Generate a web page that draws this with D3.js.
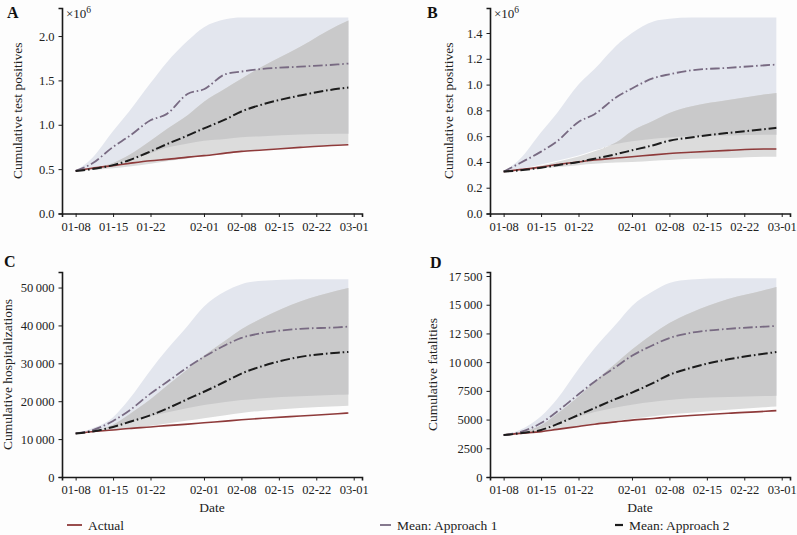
<!DOCTYPE html>
<html>
<head>
<meta charset="utf-8">
<script src="https://cdn.jsdelivr.net/npm/d3@7"></script>
<style>
  body { margin: 0; background: #fdfdfd; }
  svg { display: block; }
  svg text { font-family: "Liberation Serif", "Times New Roman", "DejaVu Serif", serif; }
  .tick text { font-size: 12.5px; fill: #222; }
</style>
</head>
<body>
<script>
const dates = ["2021-01-08","2021-01-11","2021-01-15","2021-01-18","2021-01-22","2021-01-25",
  "2021-01-29","2021-02-01","2021-02-05","2021-02-08","2021-02-12","2021-02-19","2021-02-26","2021-02-28"];
const xTickLabels = ["2021-01-08","2021-01-15","2021-01-22","2021-02-01","2021-02-08","2021-02-15","2021-02-22","2021-03-01"];

// A: cumulative test positives (x 10^6)
const actualA = [0.48,0.51,0.54,0.565,0.595,0.61,0.635,0.652,0.68,0.70,0.715,0.745,0.77,0.775];
const mean1A  = [0.48,0.56,0.75,0.87,1.05,1.12,1.35,1.40,1.57,1.60,1.63,1.655,1.68,1.69];
const mean2A  = [0.48,0.50,0.545,0.60,0.70,0.78,0.88,0.96,1.06,1.15,1.23,1.33,1.405,1.42];
const hi1A    = [0.48,0.62,0.93,1.15,1.47,1.70,1.95,2.10,2.19,2.21,2.21,2.21,2.21,2.21];
const lo1A    = [0.48,0.50,0.56,0.61,0.68,0.74,0.79,0.82,0.84,0.86,0.87,0.89,0.90,0.90];
const hi2A    = [0.48,0.51,0.57,0.66,0.82,0.95,1.11,1.26,1.41,1.52,1.66,1.88,2.12,2.175];
const lo2A    = [0.48,0.49,0.51,0.53,0.56,0.59,0.62,0.65,0.68,0.70,0.72,0.75,0.775,0.785];

// B: cumulative test positives (x 10^6)
const actualB = [0.325,0.34,0.36,0.38,0.40,0.415,0.43,0.44,0.455,0.465,0.475,0.49,0.50,0.50];
const mean1B  = [0.325,0.39,0.48,0.56,0.71,0.77,0.90,0.97,1.05,1.08,1.11,1.13,1.15,1.155];
const mean2B  = [0.325,0.335,0.355,0.375,0.40,0.425,0.46,0.49,0.53,0.565,0.59,0.625,0.655,0.665];
const hi1B    = [0.325,0.42,0.63,0.78,1.00,1.12,1.30,1.40,1.49,1.51,1.52,1.52,1.52,1.52];
const lo1B    = [0.325,0.345,0.38,0.41,0.45,0.49,0.54,0.56,0.58,0.59,0.60,0.605,0.61,0.61];
const hi2B    = [0.325,0.34,0.372,0.402,0.442,0.482,0.55,0.64,0.72,0.78,0.83,0.88,0.925,0.935];
const lo2B    = [0.325,0.335,0.35,0.36,0.375,0.385,0.395,0.40,0.41,0.415,0.425,0.43,0.44,0.44];

// C: cumulative hospitalizations
const actualC = [11500,11950,12400,12800,13200,13550,13950,14300,14750,15100,15500,16100,16700,16900];
const mean1C  = [11500,12300,14800,17500,22000,25000,29000,31700,34800,36700,38000,39100,39500,39700];
const mean2C  = [11500,12000,13200,14500,16300,18000,20600,22500,25200,27300,29300,31700,32800,33000];
const hi1C    = [11500,12800,15800,20500,28200,33500,40000,45000,49000,50900,51800,52200,52200,52200];
const lo1C    = [11500,12000,13200,14500,16000,17000,18200,19000,19800,20300,20800,21300,21700,21800];
const hi2C    = [11500,12000,13800,16500,20500,24000,28500,32000,36000,39000,42000,46300,49200,49900];
const lo2C    = [11500,11900,12400,12900,13500,14100,14900,15500,16300,16900,17500,18200,18700,18800];

// D: cumulative fatalities
const actualD = [3650,3800,3950,4150,4400,4600,4800,4950,5100,5220,5350,5550,5720,5780];
const mean1D  = [3650,3900,4700,5700,7200,8300,9600,10550,11500,12100,12550,12900,13100,13150];
const mean2D  = [3650,3800,4100,4600,5400,6000,6800,7350,8200,8900,9500,10250,10750,10880];
const hi1D    = [3650,4100,5300,6800,9400,11200,13300,14900,16200,16900,17200,17300,17300,17300];
const lo1D    = [3650,3850,4250,4700,5250,5650,6050,6300,6550,6700,6850,6970,7050,7080];
const hi2D    = [3650,3850,4500,5500,7000,8300,9900,11100,12500,13400,14300,15500,16300,16550];
const lo2D    = [3650,3750,3950,4150,4400,4650,4900,5080,5300,5450,5600,5850,6080,6140];

const ticksA = [0, 0.5, 1.0, 1.5, 2.0];
const ticksB = [0, 0.2, 0.4, 0.6, 0.8, 1.0, 1.2, 1.4];
const ticksC = [0, 10000, 20000, 30000, 40000, 50000];
const ticksD = [0, 2500, 5000, 7500, 10000, 12500, 15000, 17500];

const legendLabels = ["Actual", "Mean: Approach 1", "Mean: Approach 2"];

const parse = d3.timeParse("%Y-%m-%d");
const xDates = dates.map(parse);
const xTicks = xTickLabels.map(parse);

const colors = {
  actual: "#8e3a3a",
  mean1: "#786a82",
  mean2: "#1c1c1c",
  band1: "#e3e6ee",
  band2: "#dcdcdc",
  overlap: "#c9c9ca"
};

const spaced = n => n >= 10000 ? d3.format(",")(n).replace(/,/g, "\u2009") : String(n);

const panels = [
  { key: "A", left: 62, right: 362, top: 8, bottom: 213.5, yMax: 2.316, ticks: ticksA, fmt: d3.format(".1f"),
    label: "Cumulative test positives", labelX: 22, letterX: 7, letterY: 18, mult: true,
    actual: actualA, mean1: mean1A, mean2: mean2A, hi1: hi1A, lo1: lo1A, hi2: hi2A, lo2: lo2A },
  { key: "B", left: 490, right: 790, top: 8, bottom: 213.5, yMax: 1.594, ticks: ticksB, fmt: d3.format(".1f"),
    label: "Cumulative test positives", labelX: 453, letterX: 427, letterY: 18, mult: true,
    actual: actualB, mean1: mean1B, mean2: mean2B, hi1: hi1B, lo1: lo1B, hi2: hi2B, lo2: lo2B },
  { key: "C", left: 62, right: 362, top: 272, bottom: 477, yMax: 54100, ticks: ticksC, fmt: spaced,
    label: "Cumulative hospitalizations", labelX: 12, letterX: 4, letterY: 267, mult: false,
    actual: actualC, mean1: mean1C, mean2: mean2C, hi1: hi1C, lo1: lo1C, hi2: hi2C, lo2: lo2C },
  { key: "D", left: 490, right: 790, top: 272, bottom: 477, yMax: 17850, ticks: ticksD, fmt: spaced,
    label: "Cumulative fatalities", labelX: 437, letterX: 430, letterY: 268, mult: false,
    actual: actualD, mean1: mean1D, mean2: mean2D, hi1: hi1D, lo1: lo1D, hi2: hi2D, lo2: lo2D }
];

const svg = d3.select("body").append("svg")
  .attr("width", 797)
  .attr("height", 535);

// matplotlib style 5% margin around the data range
const first = xDates[0], last = xDates[xDates.length - 1];
const pad = (last - first) * 0.05;
const xDomain = [new Date(+first - pad), new Date(+last + pad)];

panels.forEach(p => {
  const x = d3.scaleTime().domain(xDomain).range([p.left, p.right]);
  const y = d3.scaleLinear().domain([0, p.yMax]).range([p.bottom, p.top]);
  const g = svg.append("g");

  const rows = xDates.map((d, i) => ({
    date: d,
    actual: p.actual[i], mean1: p.mean1[i], mean2: p.mean2[i],
    hi1: p.hi1[i], lo1: p.lo1[i], hi2: p.hi2[i], lo2: p.lo2[i]
  }));

  const curve = d3.curveMonotoneX;
  const band = (lo, hi) => d3.area().curve(curve)
    .x(d => x(d.date)).y0(d => y(lo(d))).y1(d => y(hi(d)));

  g.append("path").datum(rows).attr("fill", colors.band1)
    .attr("d", band(d => d.lo1, d => d.hi1));
  g.append("path").datum(rows).attr("fill", colors.band2)
    .attr("d", band(d => d.lo2, d => d.hi2));
  // overlap of the two bands
  g.append("path").datum(rows).attr("fill", colors.overlap)
    .attr("d", band(d => Math.max(d.lo1, d.lo2),
                    d => Math.max(Math.max(d.lo1, d.lo2), Math.min(d.hi1, d.hi2))));

  const line = key => d3.line().curve(curve).x(d => x(d.date)).y(d => y(d[key]));
  g.append("path").datum(rows).attr("fill", "none").attr("stroke", colors.actual)
    .attr("stroke-width", 1.6).attr("d", line("actual"));
  g.append("path").datum(rows).attr("fill", "none").attr("stroke", colors.mean1)
    .attr("stroke-width", 1.8).attr("stroke-dasharray", "9.6,2.8,1.6,2.8").attr("d", line("mean1"));
  g.append("path").datum(rows).attr("fill", "none").attr("stroke", colors.mean2)
    .attr("stroke-width", 2).attr("stroke-dasharray", "9.6,2.8,1.6,2.8").attr("d", line("mean2"));

  // axes
  const xAxis = g.append("g")
    .attr("transform", `translate(0,${p.bottom})`)
    .call(d3.axisBottom(x).tickValues(xTicks).tickFormat(d3.timeFormat("%m-%d")).tickSize(3.5).tickPadding(5));
  const yAxis = g.append("g")
    .attr("transform", `translate(${p.left},0)`)
    .call(d3.axisLeft(y).tickValues(p.ticks).tickFormat(p.fmt).tickSize(3.5).tickPadding(4));
  [xAxis, yAxis].forEach(a => {
    a.attr("font-family", null).attr("font-size", null);
    a.select(".domain").attr("stroke", "#1a1a1a").attr("stroke-width", 1.6);
    a.selectAll(".tick line").attr("stroke", "#1a1a1a").attr("stroke-width", 1);
  });

  g.append("text")
    .attr("transform", `translate(${p.labelX},${(p.top + p.bottom) / 2}) rotate(-90)`)
    .attr("text-anchor", "middle")
    .attr("font-size", 13.5).attr("fill", "#222")
    .text(p.label);

  g.append("text")
    .attr("x", p.letterX).attr("y", p.letterY)
    .attr("font-size", 16).attr("font-weight", "bold").attr("fill", "#111")
    .text(p.key);

  if (p.mult) {
    const t = g.append("text").attr("x", p.left + 4).attr("y", p.top + 10)
      .attr("font-size", 13).attr("fill", "#222");
    t.append("tspan").text("\u00d710");
    t.append("tspan").attr("dy", -5).attr("font-size", 9.5).text("6");
  }

  if (p.key === "C" || p.key === "D") {
    g.append("text")
      .attr("x", (p.left + p.right) / 2).attr("y", 512)
      .attr("text-anchor", "middle").attr("font-size", 13.5).attr("fill", "#222")
      .text("Date");
  }
});

// legend
const legendItems = [
  { label: legendLabels[0], color: colors.actual, x1: 67, x2: 82, w: 1.8 },
  { label: legendLabels[1], color: colors.mean1, x1: 380, x2: 391, w: 1.8 },
  { label: legendLabels[2], color: colors.mean2, x1: 615, x2: 623, w: 2.2 }
];
const legend = svg.append("g");
legendItems.forEach(it => {
  legend.append("line")
    .attr("x1", it.x1).attr("x2", it.x2).attr("y1", 525).attr("y2", 525)
    .attr("stroke", it.color).attr("stroke-width", it.w);
  legend.append("text")
    .attr("x", it.x2 + 6).attr("y", 529.5)
    .attr("font-size", 13.5).attr("fill", "#222")
    .text(it.label);
});
</script>
</body>
</html>
